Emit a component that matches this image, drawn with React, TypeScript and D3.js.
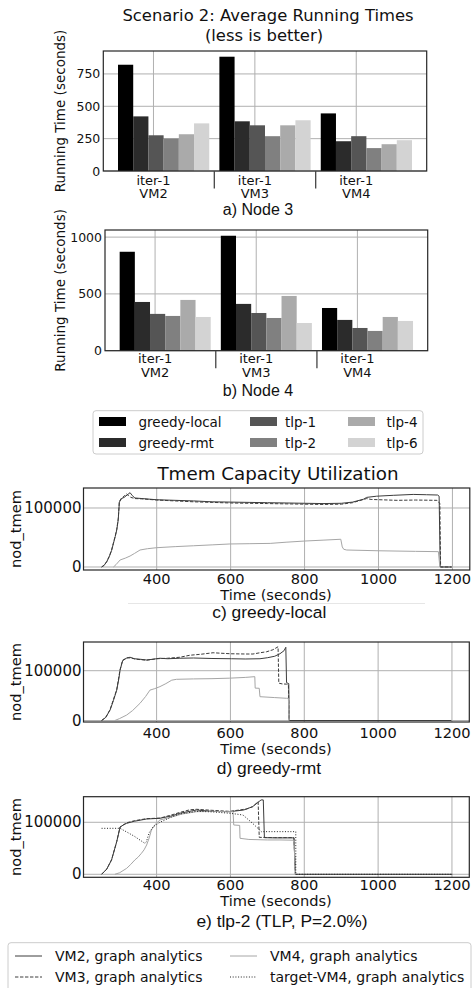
import React from 'react';
import * as d3 from 'd3';

// running times in seconds: one row per VM, one value per policy
const vmGroups = ['VM2', 'VM3', 'VM4'];
const policies = ['greedy-local', 'greedy-rmt', 'tlp-1', 'tlp-2', 'tlp-4', 'tlp-6'];
const policyColors = ['#000000', '#2b2b2b', '#555555', '#808080', '#aaaaaa', '#d3d3d3'];
const node3Times = [
  [821, 422, 276, 251, 284, 368],
  [883, 384, 353, 269, 353, 392],
  [445, 230, 269, 177, 207, 238],
];
const node4Times = [
  [871, 429, 324, 306, 447, 297],
  [1012, 412, 332, 288, 482, 244],
  [376, 271, 200, 174, 297, 262],
];
const node3Ticks = [0, 250, 500, 750];
const node4Ticks = [0, 500, 1000];

// tmem traces: [time (s), nod_tmem]
const greedyLocalVm2 = [
  [251, 0], [258, 3000], [265, 9000], [272, 18000], [278, 28000], [283, 40000], [288, 52000],
  [292, 63000], [296, 80000], [299, 110000], [305, 116000], [312, 118000], [320, 122000],
  [328, 126000], [334, 121000], [341, 117000], [360, 116000], [400, 114000], [450, 113000],
  [500, 112000], [550, 110500], [600, 110000], [650, 109500], [700, 109000], [750, 108500],
  [800, 108000], [850, 107500], [900, 108000], [930, 110000], [960, 115000], [968, 118000],
  [995, 120000], [1040, 121500], [1094, 123000], [1130, 122500], [1160, 122000], [1164, 120000],
  [1167, 0], [1198, 0],
];
const greedyLocalVm3 = [
  [251, 0], [258, 3000], [265, 9500], [272, 18500], [278, 29000], [283, 41000], [288, 53000],
  [292, 64000], [296, 82000], [299, 111000], [305, 117000], [312, 120000], [318, 124000],
  [324, 121000], [330, 118000], [341, 116000], [360, 115500], [400, 113500], [450, 112000],
  [500, 110500], [550, 109500], [600, 108500], [650, 108000], [700, 107500], [750, 107000],
  [800, 106500], [850, 106000], [900, 106500], [930, 109000], [968, 116000], [980, 114500],
  [1050, 113000], [1100, 113500], [1158, 113000], [1162, 110000], [1166, 108000], [1168, 0],
  [1198, 0],
];
const greedyLocalVm4 = [
  [283, 0], [290, 4000], [301, 11900], [315, 15000], [328, 18600], [340, 23000], [355, 28800],
  [375, 31000], [400, 32700], [450, 34500], [500, 36000], [550, 37500], [598, 39000],
  [650, 39500], [707, 40000], [750, 42000], [800, 44000], [850, 45500], [898, 47000],
  [902, 34000], [906, 30000], [914, 28800], [1000, 27500], [1100, 26500], [1162, 26000],
  [1166, 0],
];
const greedyRmtVm2 = [
  [251, 0], [262, 6000], [274, 21000], [283, 40000], [292, 61000], [298, 85000], [301, 101000],
  [308, 120000], [318, 125000], [328, 127000], [340, 124000], [355, 123000], [373, 121500],
  [390, 123000], [409, 125000], [430, 124000], [463, 125000], [500, 125500], [550, 124500],
  [603, 124000], [640, 123500], [680, 124000], [700, 126000], [720, 129000], [734, 134000],
  [745, 140000], [750, 147000], [752, 76000], [758, 74000], [759, 0], [1198, 0],
];
const greedyRmtVm3 = [
  [251, 0], [262, 6000], [274, 22000], [283, 42000], [292, 62000], [301, 102000], [308, 121000],
  [320, 126000], [330, 125500], [345, 123000], [373, 121000], [400, 124000], [430, 125000],
  [463, 127000], [490, 131000], [520, 133000], [553, 136000], [600, 134000], [640, 133500],
  [661, 133500], [680, 136000], [698, 138000], [715, 142000], [729, 148000], [731, 75000],
  [740, 73500], [752, 73000], [757, 72000], [759, 0], [1198, 0],
];
const greedyRmtVm4 = [
  [287, 0], [300, 4000], [319, 11000], [335, 20000], [355, 34500], [370, 48000], [382, 61000],
  [395, 64000], [409, 68000], [425, 74000], [441, 81000], [454, 82700], [500, 83500],
  [550, 84000], [598, 85000], [640, 86500], [666, 88000], [667, 65000], [678, 64700],
  [680, 47800], [720, 46000], [752, 44600], [757, 44600], [759, 0],
];
const tlp2Vm2 = [
  [251, 0], [265, 10000], [278, 27500], [292, 62700], [301, 90400], [310, 95000], [319, 98000],
  [340, 102000], [373, 106300], [409, 107700], [440, 112000], [463, 117300], [508, 123600],
  [550, 121000], [598, 120400], [636, 123600], [660, 130000], [683, 143000], [689, 143000],
  [692, 70400], [720, 70000], [772, 70000], [776, 0], [1201, 0],
];
const tlp2Vm3 = [
  [251, 0], [265, 10000], [278, 28000], [292, 63000], [301, 91000], [319, 99000], [340, 103000],
  [373, 107000], [409, 108000], [440, 114000], [463, 119000], [490, 124000], [508, 125000],
  [550, 123000], [598, 121000], [644, 125600], [660, 130000], [675, 139600], [678, 71000],
  [720, 70500], [772, 70500], [776, 0],
];
const tlp2Vm4 = [
  [287, 0], [300, 3000], [319, 11500], [330, 19000], [341, 27500], [350, 33000], [359, 40400],
  [366, 47000], [373, 56300], [380, 70000], [386, 85200], [395, 95000], [409, 104400],
  [440, 110000], [470, 116000], [508, 120400], [550, 121000], [589, 120400], [607, 120400],
  [609, 94800], [625, 94000], [626, 69200], [650, 67000], [700, 66000], [734, 66000],
  [772, 65500], [776, 0],
];
const tlp2TargetVm4 = [
  [251, 88400], [301, 88400], [320, 81000], [340, 73000], [368, 59600], [372, 62000],
  [380, 80000], [391, 91500], [409, 100000], [440, 110000], [463, 116000], [508, 121000],
  [550, 120000], [600, 117300], [634, 114000], [660, 98000], [684, 81900], [700, 82000],
  [777, 82000], [777, 0], [1201, 0],
];
const timeTicks = [400, 600, 800, 1000, 1200];
const tmemTicks = [0, 100000];
const traceNames = [
  'VM2, graph analytics',
  'VM3, graph analytics',
  'VM4, graph analytics',
  'target-VM4, graph analytics',
];

const MPL = 'DejaVu Sans, sans-serif';
const CAP = 'Liberation Sans, Arial, sans-serif';
const GRID = '#b0b0b0';
const EDGE = '#262626';

const traceStyles = [
  { stroke: '#3c3c3c', dash: undefined },
  { stroke: '#3c3c3c', dash: '3.4,1.6' },
  { stroke: '#a6a6a6', dash: undefined },
  { stroke: '#222222', dash: '1,1.7' },
];

type Frame = { left: number; right: number; top: number; bottom: number };

const pad = ([a, b]: number[]) => [a - 0.05 * (b - a), b + 0.05 * (b - a)];

function BarPanel({ times, ticks, frame, labelY, caption, captionY }: {
  times: number[][]; ticks: number[]; frame: Frame; labelY: number[]; caption: string; captionY: number;
}) {
  const barW = 0.15;
  const start = -0.35;
  const x = d3.scaleLinear()
    .domain(pad([start, vmGroups.length - 1 + start + policies.length * barW]))
    .range([frame.left, frame.right]);
  const yMax = (d3.max(times.flat()) as number) * 1.05;
  const y = d3.scaleLinear().domain([0, yMax]).range([frame.bottom, frame.top]);
  const midY = (frame.top + frame.bottom) / 2;
  return (
    <g>
      {ticks.map((t) => (
        <line key={'h' + t} x1={frame.left} x2={frame.right} y1={y(t)} y2={y(t)} stroke={GRID} strokeWidth={1} />
      ))}
      {vmGroups.map((_, g) => (
        <line key={'v' + g} x1={x(g)} x2={x(g)} y1={frame.top} y2={frame.bottom} stroke={GRID} strokeWidth={1} />
      ))}
      {times.map((row, g) =>
        row.map((v, i) => (
          <rect key={g + '-' + i} x={x(g + start + i * barW)} width={x(barW) - x(0)}
            y={y(v)} height={y(0) - y(v)} fill={policyColors[i]} />
        )),
      )}
      <rect x={frame.left} y={frame.top} width={frame.right - frame.left} height={frame.bottom - frame.top}
        fill="none" stroke={EDGE} strokeWidth={1.2} />
      {ticks.map((t) => (
        <text key={'t' + t} x={frame.left - 3} y={y(t)} dominantBaseline="central" textAnchor="end"
          fontFamily={MPL} fontSize={12.5} fill="#111">{t}</text>
      ))}
      {vmGroups.map((vm, g) => (
        <g key={'l' + vm}>
          <text x={x(g)} y={labelY[0]} textAnchor="middle" fontFamily={MPL} fontSize={13} fill="#111">iter-1</text>
          <text x={x(g)} y={labelY[1]} textAnchor="middle" fontFamily={MPL} fontSize={13} fill="#111">{vm}</text>
        </g>
      ))}
      {vmGroups.slice(0, -1).map((vm, g) => (
        <line key={'s' + vm} x1={x(g + 0.6)} x2={x(g + 0.6)} y1={frame.bottom} y2={frame.bottom + 17.5}
          stroke="#444" strokeWidth={1.3} />
      ))}
      <text transform={`translate(64.5,${midY}) rotate(-90)`} textAnchor="middle" fontFamily={MPL}
        fontSize={13.5} fill="#111">Running Time (seconds)</text>
      <text x={258} y={captionY} textAnchor="middle" fontFamily={CAP} fontSize={16} fill="#111">{caption}</text>
    </g>
  );
}

function TracePanel({ traces, frame, yDomain, tickY, xLabelY, caption, captionX, captionY }: {
  traces: number[][][]; frame: Frame; yDomain: number[]; tickY: number; xLabelY: number;
  caption: string; captionX: number; captionY: number;
}) {
  const x = d3.scaleLinear().domain([202, 1247]).range([frame.left, frame.right]);
  const y = d3.scaleLinear().domain(yDomain).range([frame.bottom, frame.top]);
  const path = d3.line<number[]>().x((d) => x(d[0])).y((d) => y(d[1]));
  const midY = (frame.top + frame.bottom) / 2;
  return (
    <g>
      {timeTicks.map((t) => (
        <line key={'v' + t} x1={x(t)} x2={x(t)} y1={frame.top} y2={frame.bottom} stroke={GRID} strokeWidth={1} />
      ))}
      {tmemTicks.map((t) => (
        <line key={'h' + t} x1={frame.left} x2={frame.right} y1={y(t)} y2={y(t)} stroke={GRID} strokeWidth={1} />
      ))}
      {traces.map((pts, i) => (
        <path key={i} d={path(pts) ?? ''} fill="none" stroke={traceStyles[i].stroke} strokeWidth={1}
          strokeDasharray={traceStyles[i].dash} />
      ))}
      <rect x={frame.left} y={frame.top} width={frame.right - frame.left} height={frame.bottom - frame.top}
        fill="none" stroke={EDGE} strokeWidth={1.2} />
      {tmemTicks.map((t) => (
        <text key={'t' + t} x={frame.left - 2} y={y(t)} dominantBaseline="central" textAnchor="end"
          fontFamily={MPL} fontSize={15} fill="#111">{t}</text>
      ))}
      {timeTicks.map((t) => (
        <text key={'x' + t} x={x(t)} y={tickY} textAnchor="middle" fontFamily={MPL} fontSize={14.6} fill="#111">{t}</text>
      ))}
      <text x={276} y={xLabelY} textAnchor="middle" fontFamily={MPL} fontSize={14.6} fill="#111">Time (seconds)</text>
      <text transform={`translate(21,${midY}) rotate(-90)`} textAnchor="middle" fontFamily={MPL}
        fontSize={14.6} fill="#111">nod_tmem</text>
      <text x={captionX} y={captionY} textAnchor="middle" fontFamily={CAP} fontSize={17.4} fill="#111">{caption}</text>
    </g>
  );
}

export default function App() {
  const barRows = [421.5, 442.5];
  const barCols = [[99, 138.5], [250, 285], [348, 386.5]];
  const lineRows = [956, 977];
  const lineCols = [[15, 55], [230, 270]];
  return (
    <svg width={472} height={988} style={{ position: 'absolute', left: 0, top: 0, background: '#fff' }}>
      <rect width={472} height={988} fill="#fff" />
      <text x={268} y={20.7} textAnchor="middle" fontFamily={MPL} fontSize={16.4} fill="#111">
        Scenario 2: Average Running Times
      </text>
      <text x={264} y={40.5} textAnchor="middle" fontFamily={MPL} fontSize={16.4} fill="#111">(less is better)</text>

      <BarPanel times={node3Times} ticks={node3Ticks} frame={{ left: 103.3, right: 426.7, top: 51, bottom: 171 }}
        labelY={[184.5, 198]} caption="a) Node 3" captionY={215} />
      <BarPanel times={node4Times} ticks={node4Ticks} frame={{ left: 105, right: 427.7, top: 230, bottom: 350.7 }}
        labelY={[363, 377]} caption="b) Node 4" captionY={395.7} />

      <rect x={93} y={410.7} width={330} height={43.3} rx={3} fill="#fff" stroke="#cccccc" strokeWidth={1} />
      {policies.map((p, i) => {
        const col = barCols[Math.floor(i / 2)];
        const ry = barRows[i % 2];
        return (
          <g key={p}>
            <rect x={col[0]} y={ry - 4.5} width={27} height={9} fill={policyColors[i]} />
            <text x={col[1]} y={ry} dominantBaseline="central" fontFamily={MPL} fontSize={13.5} fill="#111">{p}</text>
          </g>
        );
      })}

      <text x={278} y={480} textAnchor="middle" fontFamily={MPL} fontSize={18.3} fill="#111">
        Tmem Capacity Utilization
      </text>

      <TracePanel traces={[greedyLocalVm2, greedyLocalVm3, greedyLocalVm4]}
        frame={{ left: 83.5, right: 469.8, top: 488, bottom: 570 }} yDomain={[-5100, 133900]}
        tickY={584} xLabelY={600} caption="c) greedy-local" captionX={269.3} captionY={618.3} />
      <line x1={128} x2={425} y1={603.5} y2={603.5} stroke="#e6e6e6" strokeWidth={1} />
      <TracePanel traces={[greedyRmtVm2, greedyRmtVm3, greedyRmtVm4]}
        frame={{ left: 83.5, right: 469.3, top: 642, bottom: 722 }} yDomain={[-3000, 157600]}
        tickY={737.5} xLabelY={753.5} caption="d) greedy-rmt" captionX={269} captionY={773.5} />
      <TracePanel traces={[tlp2Vm2, tlp2Vm3, tlp2Vm4, tlp2TargetVm4]}
        frame={{ left: 83.5, right: 469.3, top: 796.7, bottom: 877.3 }} yDomain={[-5800, 149200]}
        tickY={890} xLabelY={906} caption="e) tlp-2 (TLP, P=2.0%)" captionX={282} captionY={927} />

      <rect x={8} y={942.7} width={463} height={50} rx={3} fill="#fff" stroke="#cccccc" strokeWidth={1} />
      {traceNames.map((n, i) => {
        const col = lineCols[Math.floor(i / 2)];
        const ry = lineRows[i % 2];
        return (
          <g key={n}>
            <line x1={col[0]} x2={col[0] + 27} y1={ry} y2={ry} stroke={traceStyles[i].stroke} strokeWidth={1}
              strokeDasharray={traceStyles[i].dash} />
            <text x={col[1]} y={ry} dominantBaseline="central" fontFamily={MPL} fontSize={14} fill="#111">{n}</text>
          </g>
        );
      })}
    </svg>
  );
}
